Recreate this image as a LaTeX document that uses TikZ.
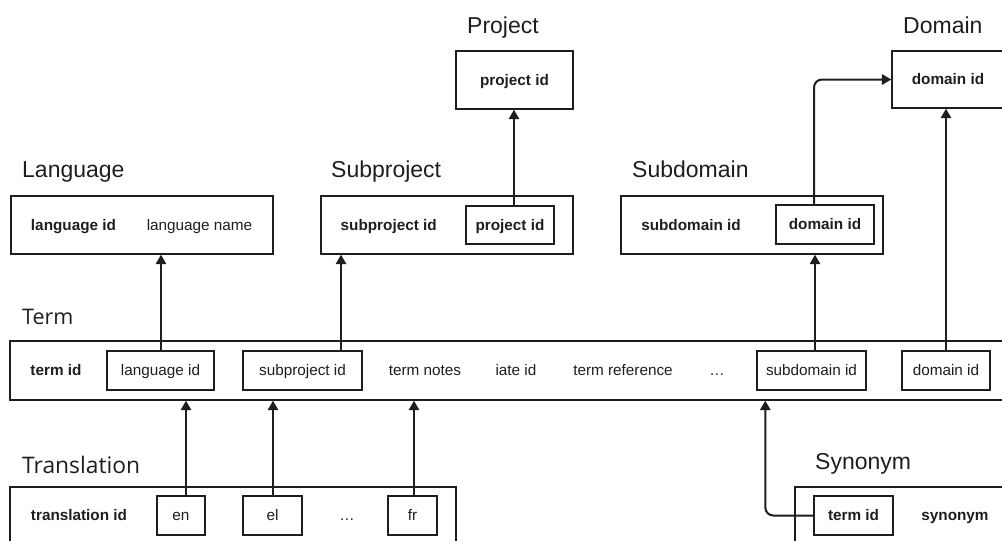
\documentclass[tikz,border=0pt]{standalone}
\usepackage{fontspec}
\setmainfont{Liberation Sans}
\newfontfamily\opensans{Open Sans}
\usetikzlibrary{arrows.meta}

\definecolor{ink}{HTML}{1E1E1E}

\tikzset{
    table/.style={draw=ink, line width=1.4pt, inner sep=0pt},
    attr/.style={inner sep=0pt, text=ink, text height=10.5pt, text depth=0.5pt,
                 font=\fontsize{15.3}{18}\selectfont},
    key/.style={attr, font=\fontsize{15.3}{18}\selectfont\bfseries},
    field/.style={attr, draw=ink, line width=1.4pt, minimum height=39pt},
    keyfield/.style={field, font=\fontsize{15.3}{18}\selectfont\bfseries},
    tname/.style={anchor=base west, inner sep=0pt, text=ink, font=\fontsize{23}{27}\selectfont},
    fk/.style={draw=ink, line width=1.5pt, -{Triangle[width=10.5pt,length=9.5pt]}},
    bent/.style={fk, line width=2pt, rounded corners=8pt},
}

\begin{document}
\begin{tikzpicture}[x=1pt, y=-1pt]
                    \useasboundingbox (0,0) rectangle (1002,541);
                    \clip (0,0) rectangle (1002,541);

                    % table titles
                    \node[tname] (t-project)     at (467,33)  {Project};
                    \node[tname] (t-domain)      at (903,33)  {Domain};
                    \node[tname] (t-language)    at (22,177)  {Language};
                    \node[tname] (t-subproject)  at (331,177) {Subproject};
                    \node[tname] (t-subdomain)   at (632,177) {Subdomain};
                    \node[tname, font=\opensans\fontsize{21.5}{26}\selectfont] (t-term) at (22,324) {Term};
                    \node[tname, font=\opensans\fontsize{22.8}{27}\selectfont] (t-translation) at (22,473) {Translation};
                    \node[tname] (t-synonym)     at (815,469) {Synonym};

                    % top row
                    \node[table, key, minimum width=117pt, minimum height=58pt] (project) at (514.5,80) {project id};
                    \node[table, key, minimum width=112pt, minimum height=57pt] (domain)  at (948,79.5) {domain id};

                    % middle row
                    \node[table, minimum width=262pt, minimum height=58pt] (language) at (142,225) {};
                    \node[key]  (lang-id)   at (73.5,225)  {language id};
                    \node[attr] (lang-name) at (199.5,225) {language name};

                    \node[table, minimum width=252pt, minimum height=58pt] (subproject) at (447,225) {};
                    \node[key]  (sp-id)     at (388.7,225) {subproject id};
                    \node[keyfield, minimum width=88pt, minimum height=38pt] (sp-project) at (510,225) {project id};

                    \node[table, minimum width=262pt, minimum height=58pt] (subdomain) at (752,225) {};
                    \node[key]  (sd-id)     at (691,225)   {subdomain id};
                    \node[keyfield, minimum width=98pt] (sd-domain) at (825,224.5) {domain id};

                    % term
                    \node[table, minimum width=1000pt, minimum height=59pt] (term) at (510,370.5) {};
                    \node[key]   (term-id)    at (56,370.5)  {term id};
                    \node[field, minimum width=107pt] (term-lang)   at (160.5,370.5) {language id};
                    \node[field, minimum width=119pt] (term-sp)     at (302.5,370.5) {subproject id};
                    \node[attr]  (term-notes) at (425,370.5) {term notes};
                    \node[attr]  (term-iate)  at (516,370.5) {iate id};
                    \node[attr]  (term-ref)   at (623,370.5) {term reference};
                    \node[attr]  (term-more)  at (717,370.5) {…};
                    \node[field, minimum width=109pt] (term-sd)     at (811.5,370.5) {subdomain id};
                    \node[field, minimum width=88pt]  (term-domain) at (946,370.5) {domain id};

                    % bottom row
                    \node[table, minimum width=446pt, minimum height=73pt] (translation) at (233,523.5) {};
                    \node[key]   (tr-id)   at (79,515.5)  {translation id};
                    \node[field, minimum width=48pt] (tr-en) at (181,515.5) {en};
                    \node[field, minimum width=59pt] (tr-el) at (272.5,515.5) {el};
                    \node[attr]  (tr-more) at (347,515.5) {…};
                    \node[field, minimum width=49pt] (tr-fr) at (412.5,515.5) {fr};

                    \node[table, minimum width=215pt, minimum height=73pt] (synonym) at (902.5,523.5) {};
                    \node[keyfield, minimum width=79pt] (syn-term) at (853.5,515.5) {term id};
                    \node[key]   (syn-name) at (955,515.5) {synonym};

                    % foreign keys
                    \coordinate (lang-out) at ([xshift=0.5pt]term-lang.north);
                    \coordinate (sp-out)   at ([xshift=38.5pt]term-sp.north);
                    \coordinate (pr-out)   at ([xshift=4pt]sp-project.north);
                    \coordinate (dom-out)  at ([xshift=-11pt]sd-domain.north);
                    \coordinate (sd-out)   at ([xshift=3.5pt]term-sd.north);
                    \coordinate (en-out)   at ([xshift=5pt]tr-en.north);
                    \coordinate (el-out)   at ([xshift=0.5pt]tr-el.north);
                    \coordinate (fr-out)   at ([xshift=1.5pt]tr-fr.north);
                    \coordinate (syn-bend) at ([xshift=-48pt]syn-term.west);

                    \draw[fk] (lang-out) -- (lang-out |- language.south);
                    \draw[fk] (sp-out) -- (sp-out |- subproject.south);
                    \draw[fk] (pr-out) -- (pr-out |- project.south);
                    \draw[bent] (dom-out) |- (domain.west);
                    \draw[fk] (sd-out) -- (sd-out |- subdomain.south);
                    \draw[fk] (term-domain.north) -- (term-domain.north |- domain.south);

                    \draw[fk] (en-out) -- (en-out |- term.south);
                    \draw[fk] (el-out) -- (el-out |- term.south);
                    \draw[fk] (fr-out) -- (fr-out |- term.south);
                    \draw[bent] (syn-term.west) -- (syn-bend) -- (syn-bend |- term.south);

                \end{tikzpicture}
\end{document}
